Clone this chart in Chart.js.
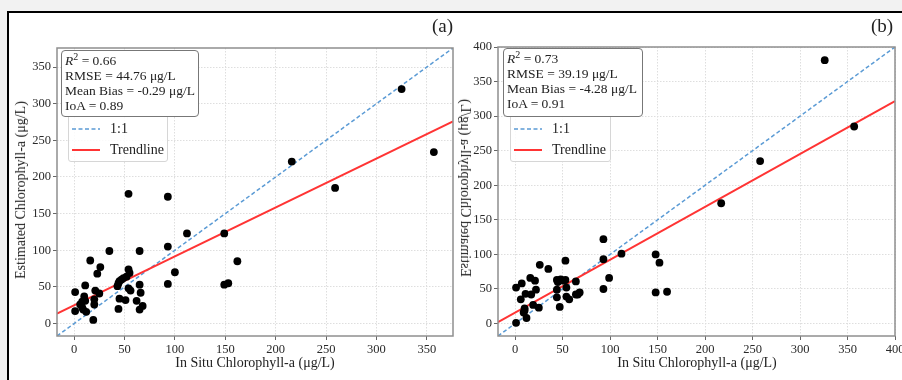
<!DOCTYPE html>
<html>
<head>
<meta charset="utf-8">
<script src="https://cdn.jsdelivr.net/npm/chart.js@4"></script>
<style>
  body { margin: 0; width: 902px; height: 380px; overflow: hidden; background: #f2f2f2; position: relative; font-family: "Liberation Serif", serif; color: #222; }
  #fig { position: absolute; left: 7px; top: 11px; width: 920px; height: 400px; border-left: 2px solid #000; border-top: 2px solid #000; background: #fff; }
  canvas { position: absolute; top: 0; }
  .lbl { position: absolute; white-space: nowrap; }
  .panel { font-size: 19px; }
  .title { font-size: 14px; transform: translate(-50%, -50%); }
  .stats { position: absolute; box-sizing: border-box; border: 1.5px solid #777; border-radius: 4px; background: #fff; font-size: 13.5px; line-height: 15px; padding: 2px 3px; white-space: nowrap; }
  .legend { position: absolute; box-sizing: border-box; border: 1px solid #d6d6d6; border-radius: 3px; background: rgba(255,255,255,0.85); font-size: 14px; }
  .legend div { position: absolute; left: 0; height: 16px; line-height: 16px; white-space: nowrap; }
  .legend svg { position: absolute; left: 3px; top: 1px; }
  .legend span { position: absolute; left: 41px; }
</style>
</head>
<body>
<div id="fig"></div>
<canvas id="chartA" width="460" height="380" style="left:0px"></canvas>
<canvas id="chartB" width="480" height="380" style="left:440px"></canvas>

<div class="lbl panel" style="left:432px; top:15px">(a)</div>
<div class="lbl panel" style="left:871px; top:15px">(b)</div>

<div class="lbl title" style="left:255px; top:363px">In Situ Chlorophyll-a (μg/L)</div>
<div class="lbl title" style="left:697px; top:363px">In Situ Chlorophyll-a (μg/L)</div>
<div class="lbl title" style="left:21px; top:190px; transform: translate(-50%, -50%) rotate(-90deg)">Estimated Chlorophyll-a (μg/L)</div>
<div class="lbl title" style="left:465px; top:188px; transform: translate(-50%, -50%) scaleX(-1) rotate(-90deg)">Estimated Chlorophyll-a (μg/L)</div>

<div class="legend" id="legA" style="left:68px; top:112px; width:100px; height:50px"></div>
<div class="legend" id="legB" style="left:510px; top:112px; width:101px; height:50px"></div>

<div class="stats" style="left:61px; top:50px; width:138px; height:67px">
  <i>R</i><sup style="font-size:10px; line-height:0">2</sup> = 0.66<br>RMSE = 44.76 μg/L<br>Mean Bias = -0.29 μg/L<br>IoA = 0.89
</div>
<div class="stats" style="left:503px; top:48px; width:140px; height:69px">
  <i>R</i><sup style="font-size:10px; line-height:0">2</sup> = 0.73<br>RMSE = 39.19 μg/L<br>Mean Bias = -4.28 μg/L<br>IoA = 0.91
</div>

<script>
// panel (a)
const inSituA = [1, 1, 6, 8, 9, 10, 11, 11, 12, 16, 19, 20, 20, 21, 23, 25, 26, 35, 43, 44,
  44, 45, 45, 47, 49, 51, 52, 54, 55, 54, 56, 62, 65, 65, 65, 66, 68, 54, 93, 93,
  93, 100, 112, 149, 149, 153, 162, 216, 259, 325, 357, 8];
const estimatedA = [43, 17, 26, 22, 19, 37, 52, 31, 16, 86, 5, 33, 26, 45, 68, 41, 77, 99, 51, 55,
  20, 34, 58, 60, 62, 32, 64, 74, 69, 48, 45, 31, 99, 53, 19, 42, 24, 177, 173, 105,
  54, 70, 123, 123, 53, 55, 85, 221, 185, 320, 234, 30];
const trendA = [0.667, 25];      // slope, intercept
const rangeA = [-17, 376];
const ticksA = [0, 50, 100, 150, 200, 250, 300, 350];

// panel (b)
const inSituB = [1, 1, 7, 6, 11, 17, 16, 21, 22, 26, 35, 10, 9, 12, 19, 25, 44, 48, 51, 53,
  53, 44, 54, 44, 47, 54, 57, 64, 64, 66, 68, 93, 93, 93, 99, 112, 148, 152, 148, 160,
  217, 258, 326, 357, 45, 10];
const estimatedB = [52, 1, 58, 35, 43, 42, 66, 62, 49, 85, 79, 22, 16, 8, 27, 23, 63, 64, 62, 63,
  91, 49, 52, 38, 24, 39, 35, 61, 42, 42, 45, 122, 93, 50, 66, 101, 100, 88, 45, 46,
  174, 235, 381, 285, 60, 19];
const trendB = [0.765, 15.7];
const rangeB = [-18, 400];
const ticksB = [0, 50, 100, 150, 200, 250, 300, 350, 400];

const lineLabels = ["1:1", "Trendline"];
const serif = "'Liberation Serif', serif";

const framePlugin = {
  id: "frame",
  afterDraw(chart) {
    const a = chart.chartArea, ctx = chart.ctx;
    ctx.save();
    ctx.strokeStyle = "#8f8f8f";
    ctx.lineWidth = 1.5;
    ctx.strokeRect(a.left, a.top, a.right - a.left, a.bottom - a.top);
    ctx.restore();
  }
};

function axis(range, ticks, isY) {
  return {
    type: "linear",
    min: range[0],
    max: range[1],
    afterBuildTicks: s => { s.ticks = ticks.map(v => ({ value: v })); },
    afterFit: s => { if (isY) s.width = 40; else s.height = 28; },
    ticks: { font: { family: serif, size: 12.5 }, color: "#2a2a2a", padding: 2, maxRotation: 0 },
    grid: { color: "#dedede", lineWidth: 1, tickLength: 4, tickColor: "#666", tickWidth: 1 },
    border: { display: false, dash: [1.5, 1.5] }
  };
}

function makePanel(id, xs, ys, trend, range, ticks, pad) {
  const pts = xs.map((x, i) => ({ x: x, y: ys[i] }));
  const lo = range[0], hi = range[1];
  return new Chart(document.getElementById(id), {
    type: "scatter",
    data: {
      datasets: [
        { label: "points", data: pts, backgroundColor: "#000", borderWidth: 0, pointRadius: 3.9, order: 0 },
        { type: "line", label: lineLabels[0], data: [{ x: lo, y: lo }, { x: hi, y: hi }],
          borderColor: "#5b9bd5", borderWidth: 1.5, borderDash: [4, 2.5], pointRadius: 0, order: 2 },
        { type: "line", label: lineLabels[1], data: [{ x: lo, y: trend[0] * lo + trend[1] }, { x: hi, y: trend[0] * hi + trend[1] }],
          borderColor: "#ff3434", borderWidth: 2, pointRadius: 0, order: 1 }
      ]
    },
    options: {
      responsive: false,
      animation: false,
      layout: { padding: pad },
      plugins: { legend: { display: false }, tooltip: { enabled: false } },
      scales: { x: axis(range, ticks, false), y: axis(range, ticks, true) }
    },
    plugins: [framePlugin]
  });
}

function buildLegend(chart, el) {
  chart.data.datasets.slice(1).forEach((ds, i) => {
    const row = document.createElement("div");
    row.style.top = (8 + i * 21) + "px";
    row.style.width = "100%";
    const dash = ds.borderDash ? ds.borderDash.join(" ") : "none";
    row.innerHTML = '<svg width="30" height="14"><line x1="0" y1="7" x2="28" y2="7" stroke="' + ds.borderColor +
      '" stroke-width="' + ds.borderWidth + '" stroke-dasharray="' + dash + '"/></svg><span>' + ds.label + '</span>';
    el.appendChild(row);
  });
}

const chartA = makePanel("chartA", inSituA, estimatedA, trendA, rangeA, ticksA, { left: 17, top: 48, right: 7, bottom: 16 });
const chartB = makePanel("chartB", inSituB, estimatedB, trendB, rangeB, ticksB, { left: 18, top: 47, right: 25, bottom: 16 });
buildLegend(chartA, document.getElementById("legA"));
buildLegend(chartB, document.getElementById("legB"));
</script>
</body>
</html>
